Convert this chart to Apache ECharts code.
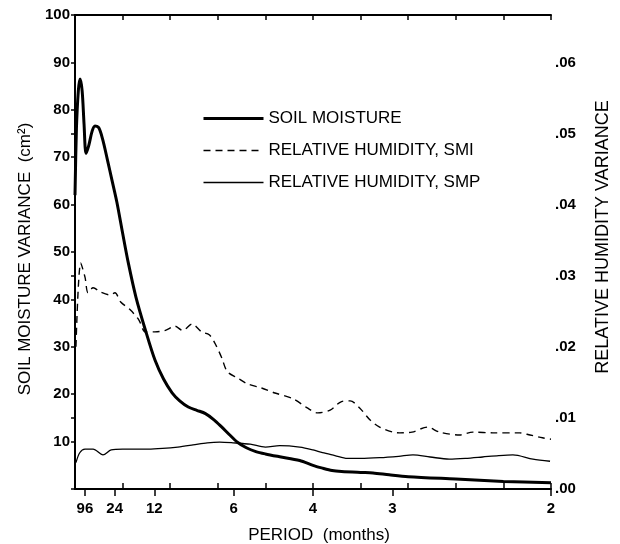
<!DOCTYPE html>
<html><head><meta charset="utf-8">
<script src="https://cdn.jsdelivr.net/npm/echarts@6/dist/echarts.min.js"></script>
<style>html,body{margin:0;padding:0;background:#fff}#c{width:620px;height:544px}</style>
</head><body><div id="c"></div>
<script>
// x axis is frequency (cycles per month) = 1 / period
const periodLabels = [96, 24, 12, 6, 4, 3, 2];

const soilFreq = [0, 0.0015, 0.0035, 0.0053, 0.0075, 0.0095, 0.0116, 0.0145, 0.018, 0.021, 0.025, 0.029, 0.034, 0.039, 0.044, 0.05, 0.056, 0.064, 0.074, 0.084, 0.093, 0.102, 0.11, 0.119, 0.128, 0.137, 0.146, 0.154, 0.162, 0.171, 0.18, 0.19, 0.2, 0.215, 0.236, 0.25, 0.26, 0.27, 0.28, 0.3, 0.313, 0.33, 0.35, 0.4, 0.45, 0.5];
const soilVar  = [62, 76, 84, 86.5, 84, 77, 70.8, 72.5, 75.5, 76.6, 76.2, 73.8, 69.5, 65, 60.5, 54, 47.7, 40.5, 33.5, 27.2, 23.2, 20.3, 18.6, 17.3, 16.6, 15.9, 14.6, 13.1, 11.5, 9.8, 8.7, 7.9, 7.4, 6.8, 6.0, 5.0, 4.4, 3.9, 3.7, 3.5, 3.4, 3.0, 2.6, 2.1, 1.6, 1.3];

const smiFreq = [0.001, 0.006, 0.0105, 0.0137, 0.019, 0.027, 0.037, 0.042, 0.048, 0.058, 0.067, 0.074, 0.084, 0.095, 0.105, 0.113, 0.123, 0.133, 0.141, 0.147, 0.154, 0.16, 0.171, 0.181, 0.196, 0.21, 0.229, 0.244, 0.255, 0.268, 0.28, 0.289, 0.299, 0.31, 0.32, 0.334, 0.341, 0.354, 0.37, 0.383, 0.404, 0.418, 0.439, 0.467, 0.478, 0.491, 0.5];
const smiVar  = [0.0200, 0.0318, 0.0298, 0.0276, 0.0283, 0.0277, 0.0273, 0.0276, 0.0263, 0.0252, 0.0238, 0.0221, 0.0221, 0.0223, 0.0229, 0.0223, 0.0232, 0.0221, 0.0217, 0.0205, 0.0185, 0.0165, 0.0156, 0.0148, 0.0142, 0.0135, 0.0127, 0.0114, 0.0107, 0.0111, 0.0123, 0.0124, 0.0114, 0.0097, 0.0087, 0.0080, 0.0079, 0.0080, 0.0087, 0.0080, 0.0076, 0.0080, 0.0079, 0.0079, 0.0076, 0.0072, 0.0070];

const smpFreq = [0.001, 0.005, 0.0105, 0.019, 0.0294, 0.038, 0.05, 0.063, 0.077, 0.092, 0.108, 0.124, 0.139, 0.152, 0.166, 0.184, 0.2, 0.215, 0.236, 0.25, 0.26, 0.273, 0.286, 0.3, 0.32, 0.34, 0.355, 0.373, 0.393, 0.41, 0.428, 0.445, 0.46, 0.481, 0.499];
const smpVar  = [0.0037, 0.0051, 0.0056, 0.0056, 0.0048, 0.0055, 0.0056, 0.0056, 0.0056, 0.0057, 0.0059, 0.0062, 0.0065, 0.0066, 0.0065, 0.0063, 0.0059, 0.0061, 0.0059, 0.0055, 0.0051, 0.0047, 0.0043, 0.0043, 0.0044, 0.0046, 0.0048, 0.0045, 0.0042, 0.0043, 0.0045, 0.0047, 0.0048, 0.0042, 0.0039];

const seriesNames = ['SOIL MOISTURE', 'RELATIVE HUMIDITY, SMI', 'RELATIVE HUMIDITY, SMP'];
const titles = { x: 'PERIOD  (months)', yLeft: 'SOIL MOISTURE VARIANCE  (cm\u00B2)', yRight: 'RELATIVE HUMIDITY VARIANCE' };

const FONT = "'Liberation Sans', Arial, Helvetica, sans-serif";
const periodFreq = periodLabels.map(p => 1 / p);
const pairs = (xs, ys) => xs.map((x, i) => [x, ys[i]]);
const axisLineStyle = { color: '#000', width: 2 };
const tickStyle = { color: '#000', width: 1.5 };
const tickFont = { fontFamily: FONT, fontSize: 15, fontWeight: 'bold', color: '#000' };
const titleStyle = (size) => ({ fill: '#000', font: size + 'px ' + FONT, align: 'center', verticalAlign: 'middle' });

const chart = echarts.init(document.getElementById('c'), null, { renderer: 'canvas' });
chart.setOption({
  animation: false,
  backgroundColor: '#fff',
  grid: { left: 75, right: 69, top: 15, bottom: 55, containLabel: false },
  legend: {
    orient: 'vertical', left: 202, top: 110, padding: 0,
    itemWidth: 60, itemHeight: 12, itemGap: 15,
    itemStyle: { opacity: 0 },
    textStyle: { fontFamily: FONT, fontSize: 17, color: '#000' },
    data: [
      { name: seriesNames[0], lineStyle: { width: 3, color: '#000' } },
      { name: seriesNames[1], lineStyle: { width: 1.4, color: '#000', type: [7, 5] } },
      { name: seriesNames[2], lineStyle: { width: 1.3, color: '#000' } }
    ]
  },
  graphic: [
    { type: 'text', x: 319, y: 535, style: Object.assign({ text: titles.x }, titleStyle(17)) },
    { type: 'text', x: 25, y: 259, rotation: Math.PI / 2, style: Object.assign({ text: titles.yLeft }, titleStyle(17)) },
    { type: 'text', x: 603, y: 237, rotation: Math.PI / 2, style: Object.assign({ text: titles.yRight }, titleStyle(18)) }
  ],
  xAxis: [
    { type: 'value', min: 0, max: 0.5, interval: 0.05, position: 'bottom',
      axisLine: { lineStyle: axisLineStyle },
      axisTick: { inside: true, length: 6, lineStyle: tickStyle },
      axisLabel: { show: false }, splitLine: { show: false } },
    { type: 'value', min: 0, max: 0.5, position: 'bottom',
      axisLine: { show: false },
      axisTick: { show: true, customValues: periodFreq, length: 7, lineStyle: tickStyle },
      axisLabel: Object.assign({ customValues: periodFreq, margin: 12,
        formatter: v => String(Math.round(1 / v)) }, tickFont),
      splitLine: { show: false } },
    { type: 'value', min: 0, max: 0.5, interval: 0.05, position: 'top',
      axisLine: { lineStyle: axisLineStyle },
      axisTick: { inside: true, length: 5, lineStyle: tickStyle },
      axisLabel: { show: false }, splitLine: { show: false } }
  ],
  yAxis: [
    { type: 'value', min: 0, max: 100, interval: 10, position: 'left',
      axisLine: { show: true, lineStyle: axisLineStyle },
      axisTick: { show: true, inside: false, length: 4, lineStyle: tickStyle },
      axisLabel: Object.assign({ margin: 5, formatter: v => v === 0 ? '' : String(v) }, tickFont),
      splitLine: { show: false } },
    { type: 'value', min: 0, max: 100 / 1500, interval: 0.01, position: 'right',
      axisLine: { show: true, lineStyle: axisLineStyle },
      axisTick: { show: true, inside: true, length: 4, lineStyle: tickStyle },
      axisLabel: Object.assign({ margin: 4, formatter: v => {
        const k = Math.round(v * 100);
        if (Math.abs(v * 100 - k) > 1e-6) return '';
        return '.' + String(k).padStart(2, '0');
      } }, tickFont),
      splitLine: { show: false } }
  ],
  series: [
    { name: seriesNames[0], type: 'line', xAxisIndex: 0, yAxisIndex: 0, smooth: 0.3,
      symbol: 'none', data: pairs(soilFreq, soilVar),
      lineStyle: { color: '#000', width: 3 }, itemStyle: { color: '#000' } },
    { name: seriesNames[1], type: 'line', xAxisIndex: 0, yAxisIndex: 1, smooth: 0.3,
      symbol: 'none', data: pairs(smiFreq, smiVar),
      lineStyle: { color: '#000', width: 1.4, type: [7, 5] }, itemStyle: { color: '#000' } },
    { name: seriesNames[2], type: 'line', xAxisIndex: 0, yAxisIndex: 1, smooth: 0.3,
      symbol: 'none', data: pairs(smpFreq, smpVar),
      lineStyle: { color: '#000', width: 1.3 }, itemStyle: { color: '#000' } }
  ]
});
</script>
</body></html>
